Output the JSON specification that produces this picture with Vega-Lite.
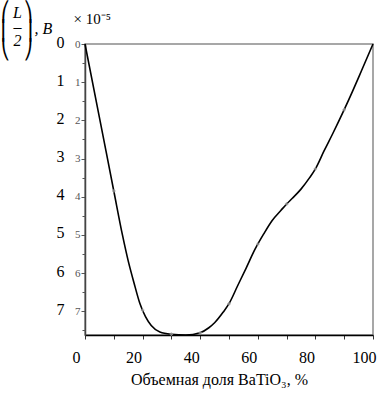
{
  "$schema": "https://vega.github.io/schema/vega-lite/v6.json",
  "autosize": "none",
  "width": 288,
  "height": 291,
  "padding": {"left": 85, "top": 44, "right": 14, "bottom": 61},
  "background": "white",
  "config": {
    "view": {"stroke": "#8a8a8a", "strokeWidth": 1.5},
    "font": "Liberation Serif"
  },
  "datasets": {
    "curve": [
      {"x": 0, "y": 0}, {"x": 5, "y": 1.92}, {"x": 10, "y": 3.85}, {"x": 13, "y": 5.0},
      {"x": 15, "y": 5.68}, {"x": 17, "y": 6.25}, {"x": 19, "y": 6.78}, {"x": 21, "y": 7.14},
      {"x": 23, "y": 7.37}, {"x": 26, "y": 7.54}, {"x": 30, "y": 7.6}, {"x": 35, "y": 7.62},
      {"x": 40, "y": 7.56}, {"x": 43, "y": 7.43}, {"x": 45, "y": 7.3}, {"x": 48, "y": 7.02},
      {"x": 50, "y": 6.8}, {"x": 53, "y": 6.33}, {"x": 56, "y": 5.86}, {"x": 59, "y": 5.38},
      {"x": 62, "y": 4.98}, {"x": 65, "y": 4.62}, {"x": 68, "y": 4.36}, {"x": 70, "y": 4.19},
      {"x": 72, "y": 4.04}, {"x": 75, "y": 3.8}, {"x": 78, "y": 3.5}, {"x": 80, "y": 3.27},
      {"x": 83, "y": 2.8}, {"x": 86, "y": 2.35}, {"x": 90, "y": 1.72}, {"x": 93, "y": 1.22},
      {"x": 96, "y": 0.7}, {"x": 100, "y": 0}
    ],
    "markers": [
      {"x": 10, "y": 3.85}, {"x": 20, "y": 6.97}, {"x": 30, "y": 7.6}, {"x": 40, "y": 7.56},
      {"x": 50, "y": 6.8}, {"x": 60, "y": 5.24}, {"x": 70, "y": 4.19}, {"x": 80, "y": 3.27},
      {"x": 90, "y": 1.72}
    ]
  },
  "resolve": {"axis": {"x": "independent", "y": "independent"}},
  "layer": [
    {
      "data": {"name": "curve"},
      "mark": {"type": "line", "color": "black", "strokeWidth": 1.6, "interpolate": "monotone"},
      "encoding": {
        "x": {
          "field": "x", "type": "quantitative",
          "scale": {"domain": [0, 100], "nice": false},
          "axis": {
            "orient": "bottom",
            "values": [0, 10, 20, 30, 40, 50, 60, 70, 80, 90, 100],
            "labelExpr": "datum.value % 20 == 0 ? datum.label : ''",
            "grid": false,
            "domainColor": "black", "domainWidth": 1.5,
            "tickColor": "#333", "tickSize": 4, "tickWidth": 1,
            "labelFont": "Liberation Serif", "labelFontSize": 16, "labelColor": "black",
            "labelPadding": 10, "labelOffset": -9, "labelFlush": false,
            "title": "Объемная доля BaTiO₃, %",
            "titleFont": "Liberation Serif", "titleFontSize": 16, "titleFontWeight": "normal",
            "titleColor": "black", "titlePadding": 6, "titleX": 134, "titleAlign": "center"
          }
        },
        "y": {
          "field": "y", "type": "quantitative",
          "scale": {"domain": [0, 7.62], "nice": false, "reverse": true, "zero": false},
          "axis": {
            "orient": "left",
            "values": [0, 1, 2, 3, 4, 5, 6, 7],
            "grid": false,
            "domainColor": "#444", "domainWidth": 1.5,
            "tickColor": "#555", "tickSize": 4, "tickWidth": 1,
            "labelFont": "Liberation Serif", "labelFontSize": 11, "labelColor": "#555",
            "labelPadding": 1, "labelFlush": false,
            "title": ["L", "–", "2"],
            "titleFont": "Liberation Serif", "titleFontSize": 16, "titleFontWeight": "normal",
            "titleFontStyle": "italic", "titleLineHeight": 14,
            "titleColor": "black", "titleAngle": 0, "titleAlign": "center", "titleBaseline": "top",
            "titleX": -68, "titleY": -40
          }
        }
      }
    },
    {
      "data": {"name": "markers"},
      "mark": {"type": "point", "shape": "cross", "filled": true, "color": "#999", "size": 12, "opacity": 0.8},
      "encoding": {
        "x": {"field": "x", "type": "quantitative", "axis": null},
        "y": {
          "field": "y", "type": "quantitative",
          "axis": {
            "orient": "left",
            "values": [0, 1, 2, 3, 4, 5, 6, 7],
            "grid": false, "domain": false, "ticks": false,
            "labelFont": "Liberation Serif", "labelFontSize": 16, "labelColor": "black",
            "labelPadding": 21, "labelOffset": -2, "labelFlush": false,
            "title": ", B",
            "titleFont": "Liberation Serif", "titleFontSize": 16, "titleFontWeight": "normal",
            "titleFontStyle": "italic",
            "titleColor": "black", "titleAngle": 0, "titleAlign": "left", "titleBaseline": "top",
            "titleX": -51, "titleY": -24
          }
        }
      }
    },
    {
      "data": {"name": "markers"},
      "mark": {"type": "point", "opacity": 0},
      "encoding": {
        "x": {
          "field": "x", "type": "quantitative",
          "axis": {
            "orient": "top",
            "grid": false, "domain": false, "ticks": false, "labels": false,
            "title": "× 10⁻⁵",
            "titleFont": "Liberation Serif", "titleFontSize": 15, "titleFontWeight": "normal",
            "titleColor": "black", "titleAngle": 0, "titleAlign": "left", "titleBaseline": "top",
            "titleX": -12, "titleY": -33
          }
        },
        "y": {
          "field": "y", "type": "quantitative",
          "axis": {
            "orient": "left",
            "values": [0.5, 1.5, 2.5, 3.5, 4.5, 5.5, 6.5, 7.5],
            "grid": false, "domain": false, "labels": false,
            "tickColor": "#555", "tickSize": 3, "tickWidth": 1,
            "title": ["⎛ ⎞", "⎜ ⎟", "⎝ ⎠"],
            "titleFont": "DejaVu Sans Mono", "titleFontSize": 19, "titleFontWeight": "normal",
            "titleLineHeight": 19,
            "titleColor": "black", "titleAngle": 0, "titleAlign": "left", "titleBaseline": "top",
            "titleX": -86, "titleY": -42
          }
        }
      }
    }
  ]
}
